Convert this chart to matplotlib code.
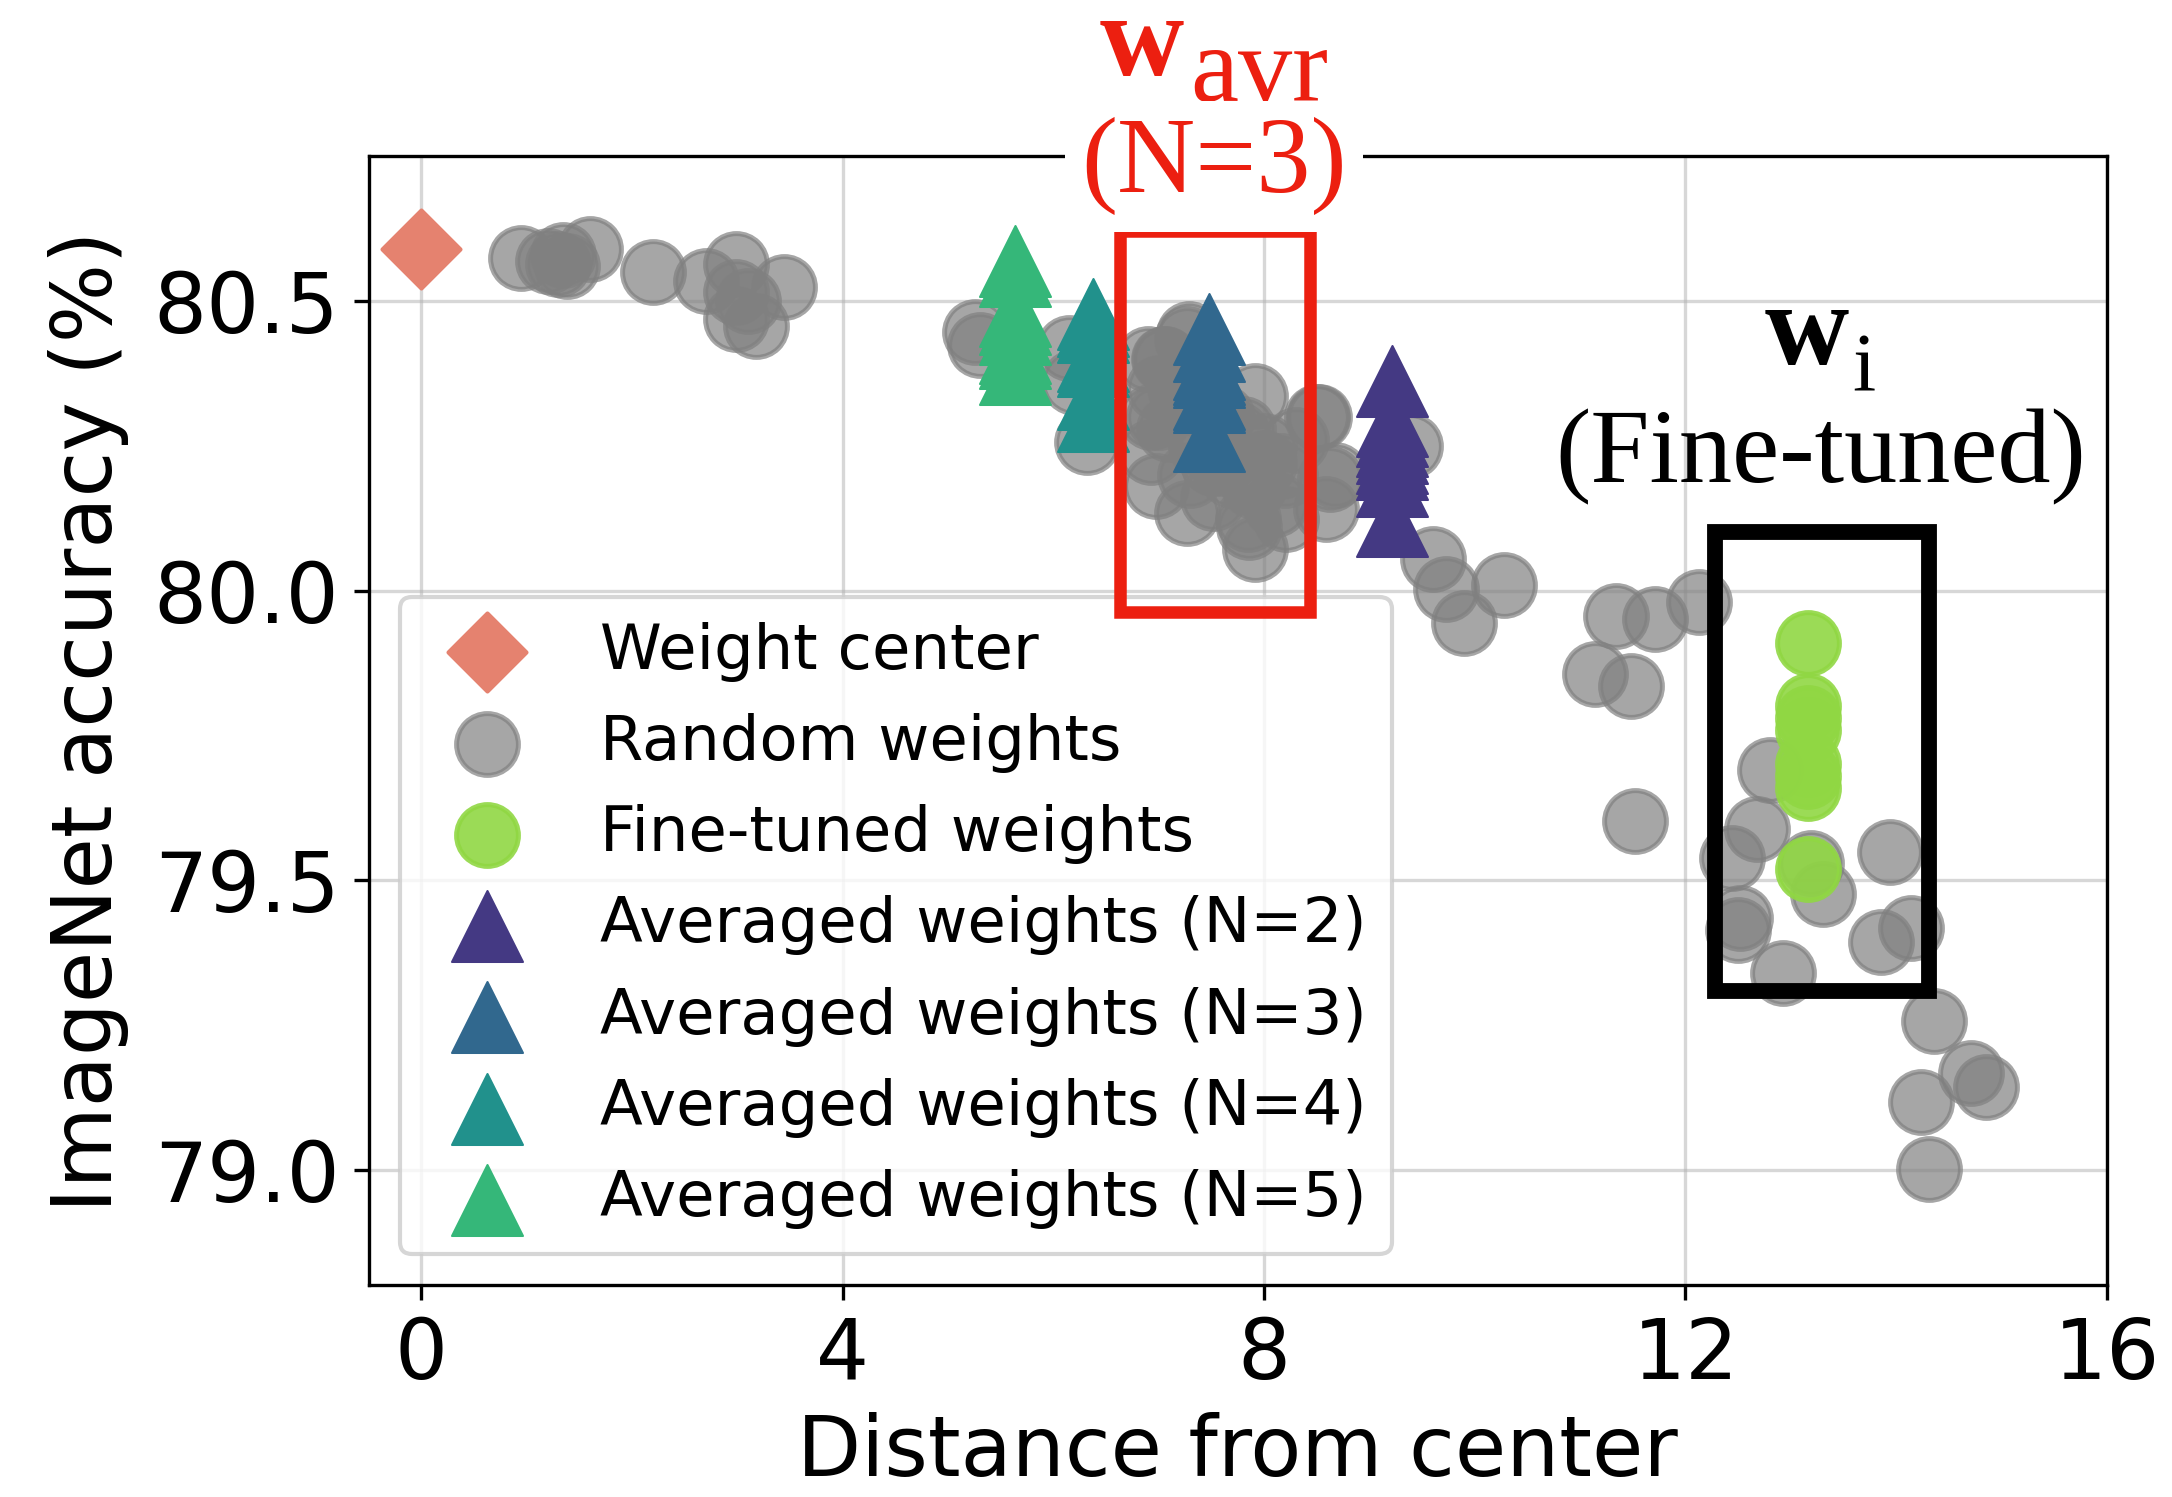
import numpy as np
import matplotlib
matplotlib.use("Agg")
import matplotlib.pyplot as plt
from matplotlib.patches import Rectangle

# ---- data ----
center_x = [0.0]
center_y = [80.59]

random_x = [0.95, 1.20, 1.30, 1.38, 1.35, 1.60,
            2.20, 2.70, 2.99, 2.99, 3.44, 2.99, 3.18, 3.10,
            5.26, 5.30, 6.15, 6.20, 6.32,
            6.90, 7.06, 7.27, 7.00, 6.93, 6.93, 7.10, 7.30, 7.27, 7.52, 7.52,
            7.74, 7.91, 7.86, 7.91, 8.16, 8.21, 8.50, 8.63, 8.59, 6.97, 8.00,
            7.70, 8.30, 7.29, 7.05, 8.52, 8.67, 7.85,
            7.20, 7.40, 7.60, 7.80, 8.00, 8.20, 7.40, 7.60, 7.90, 8.10, 7.00, 7.30,
            9.39, 9.60, 9.73, 10.28, 9.90,
            11.34, 11.71, 12.13, 11.14, 11.48, 11.52, 12.80, 12.68, 12.44,
            13.19, 13.31, 12.52, 12.50, 12.93, 13.94, 13.86, 14.14, 14.36,
            14.71, 14.85, 14.24, 14.31]
random_y = [80.575, 80.570, 80.565, 80.560, 80.580, 80.590,
            80.550, 80.535, 80.565, 80.515, 80.524, 80.470, 80.457, 80.500,
            80.446, 80.425, 80.420, 80.360, 80.256,
            80.400, 80.400, 80.434, 80.350, 80.300, 80.240, 80.280, 80.300, 80.135, 80.220, 80.160,
            80.270, 80.336, 80.110, 80.072, 80.216, 80.123, 80.300, 80.193, 80.141, 80.180, 80.250,
            80.200, 80.260, 80.443, 80.400, 80.300, 80.200, 80.123,
            80.350, 80.320, 80.300, 80.280, 80.220, 80.200, 80.250, 80.220, 80.180, 80.150, 80.300, 80.200,
            80.250, 80.054, 80.003, 80.010, 79.945,
            79.956, 79.951, 79.980, 79.856, 79.836, 79.603, 79.691, 79.588, 79.538,
            79.530, 79.476, 79.435, 79.414, 79.340, 79.549, 79.394, 79.418, 79.257,
            79.167, 79.142, 79.117, 79.001]

finetuned_x = [13.16] * 8
finetuned_y = [79.91, 79.80, 79.78, 79.76, 79.70, 79.68, 79.66, 79.52]

avg2_x = [9.21] * 9
avg2_y = [80.362, 80.293, 80.276, 80.259, 80.247, 80.230, 80.218, 80.190, 80.121]
avg3_x = [7.48] * 8
avg3_y = [80.452, 80.423, 80.391, 80.383, 80.377, 80.339, 80.334, 80.267]
avg4_x = [6.38] * 7
avg4_y = [80.478, 80.466, 80.455, 80.406, 80.397, 80.339, 80.302]
avg5_x = [5.64] * 8
avg5_y = [80.570, 80.552, 80.483, 80.470, 80.452, 80.420, 80.410, 80.383]

xticks = [0, 4, 8, 12, 16]
yticks = [79.0, 79.5, 80.0, 80.5]

# ---- style ----
plt.rcParams['font.family'] = 'DejaVu Sans'
plt.rcParams['mathtext.fontset'] = 'custom'
plt.rcParams['mathtext.rm'] = 'Liberation Serif'
plt.rcParams['mathtext.bf'] = 'Liberation Serif:bold'
viridis = plt.get_cmap('viridis')
pal = [viridis(v) for v in np.linspace(0, 1, 7)[1:-1]]
red = '#ec1f10'
serif = 'Liberation Serif'

fig = plt.figure(figsize=(7.24, 4.99), dpi=300)
ax = fig.add_axes([0.1697, 0.1413, 0.8003, 0.7542])

ax.scatter(center_x, center_y, marker='D', s=175, color='#e5826f',
           linewidths=1.0, label='Weight center', zorder=3)
ax.scatter(random_x, random_y, marker='o', s=220, color='gray', alpha=0.7,
           linewidths=1.2, label='Random weights', zorder=3)
ax.scatter(finetuned_x, finetuned_y, marker='o', s=220, color=pal[4], alpha=0.9,
           linewidths=1.2, label='Fine-tuned weights', zorder=3)
for xs, ys, c, n in [(avg2_x, avg2_y, pal[0], 2), (avg3_x, avg3_y, pal[1], 3),
                     (avg4_x, avg4_y, pal[2], 4), (avg5_x, avg5_y, pal[3], 5)]:
    ax.scatter(xs, ys, marker='^', s=290, color=c, linewidths=0.5,
               label='Averaged weights (N=%d)' % n, zorder=3)

ax.set_xlim(-0.5, 16)
ax.set_ylim(78.80, 80.75)
ax.set_xticks(xticks)
ax.set_yticks(yticks)
ax.tick_params(labelsize=20)
ax.grid(True, alpha=0.5)
ax.set_axisbelow(True)
ax.set_xlabel('Distance from center', fontsize=20)
ax.set_ylabel('ImageNet accuracy (%)', fontsize=20, labelpad=6)

ax.legend(loc='lower left', fontsize=15, labelspacing=0.5)

# ---- highlight boxes and notes ----
ax.add_patch(Rectangle((6.632, 79.963), 8.44 - 6.632, 80.621 - 79.963,
                       fill=False, edgecolor=red, linewidth=3.0,
                       clip_on=False, zorder=10))
ax.add_patch(Rectangle((12.28, 79.309), 14.31 - 12.28, 80.102 - 79.309,
                       fill=False, edgecolor='black', linewidth=3.8,
                       clip_on=False, zorder=10))

ax.text(7.245, 80.890, r'$\mathbf{w}$', color=red, fontsize=28,
        ha='right', va='baseline', clip_on=False)
ax.text(7.30, 80.846, 'avr', color=red, fontsize=26, family=serif,
        ha='left', va='baseline', clip_on=False)
ax.text(7.525, 80.688, '(N=3)', color=red, fontsize=26, family=serif,
        ha='center', va='baseline', clip_on=False, zorder=12,
        bbox=dict(boxstyle='square,pad=0.15', facecolor='white', edgecolor='none'))

ax.text(13.56, 80.391, r'$\mathbf{w}$', color='black', fontsize=28,
        ha='right', va='baseline', clip_on=False)
ax.text(13.58, 80.345, 'i', color='black', fontsize=20, family=serif,
        ha='left', va='baseline', clip_on=False)
ax.text(13.28, 80.187, '(Fine-tuned)', color='black', fontsize=25.5, family=serif,
        ha='center', va='baseline', clip_on=False)

fig.savefig('out.png', dpi=300)
